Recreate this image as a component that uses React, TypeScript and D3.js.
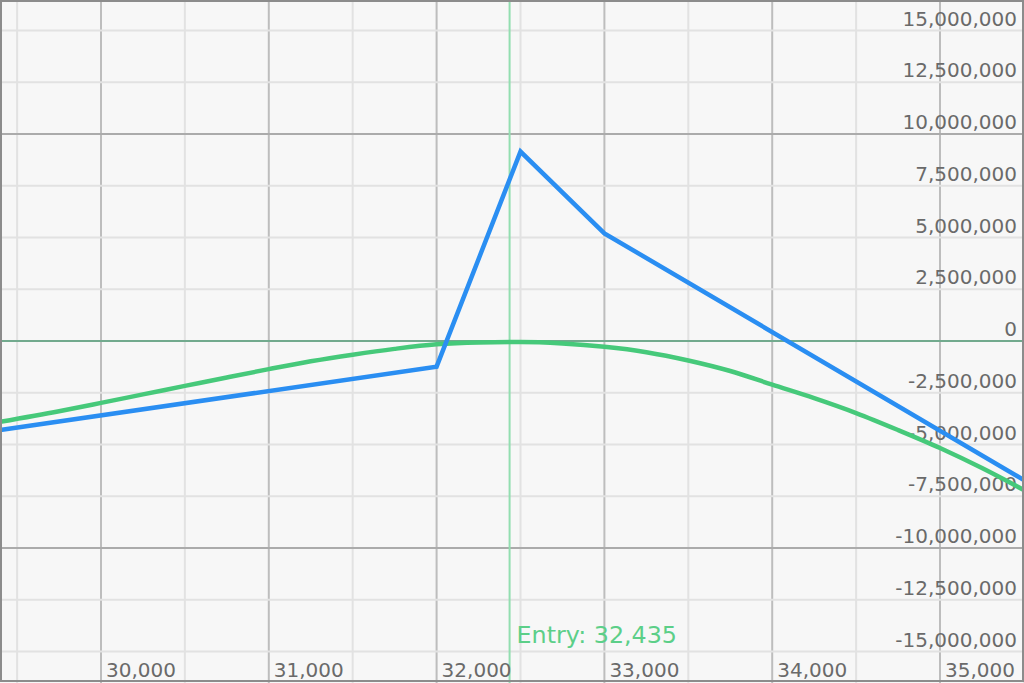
import * as d3 from "d3";
import React, { useEffect, useRef } from "react";

// payoff at expiry (blue) - kinks at strikes
const expiryPrices = [29400, 32000, 32500, 33000, 35500];
const expiryPnl = [-4300000, -1240000, 9150000, 5200000, -6720000];

// current P&L curve (green)
const nowPrices = [
  29400, 29750, 30000, 30250, 30500, 30750, 31000, 31250, 31500, 31750, 32000, 32250, 32500,
  32750, 33000, 33250, 33500, 33750, 34000, 34250, 34500, 34750, 35000, 35250, 35500,
];
const nowPnl = [
  -3900000, -3390000, -2990000, -2580000, -2170000, -1760000, -1360000, -980000, -660000,
  -380000, -160000, -70000, -50000, -120000, -280000, -540000, -940000, -1450000, -2110000,
  -2760000, -3480000, -4300000, -5170000, -6140000, -7200000,
];

const entryPrice = 32435;

const xTicks = [
  29500, 30000, 30500, 31000, 31500, 32000, 32500, 33000, 33500, 34000, 34500, 35000, 35500,
];
const xLabels = [30000, 31000, 32000, 33000, 34000, 35000];
const yTicks = [
  -15000000, -12500000, -10000000, -7500000, -5000000, -2500000, 0, 2500000, 5000000, 7500000,
  10000000, 12500000, 15000000,
];

const W = 1024;
const H = 683;

export default function App() {
  const svgRef = useRef<SVGSVGElement>(null);

  useEffect(() => {
    document.body.style.margin = "0";
    const svg = d3.select(svgRef.current);
    svg.selectAll("*").remove();

    const x = d3.scaleLinear().domain([30000, 35000]).range([101, 940]);
    const y = d3.scaleLinear().domain([-10000000, 10000000]).range([548, 134]);
    const fmt = (v: number) => d3.format(",")(v).replace("\u2212", "-");
    const font = "'DejaVu Sans', Verdana, sans-serif";

    svg.append("rect").attr("width", W).attr("height", H).attr("fill", "#f7f7f7");

    // vertical grid
    svg
      .selectAll("line.vgrid")
      .data(xTicks)
      .join("line")
      .attr("class", "vgrid")
      .attr("x1", (d) => x(d))
      .attr("x2", (d) => x(d))
      .attr("y1", 0)
      .attr("y2", H)
      .attr("stroke", (d) => (d % 1000 === 0 ? "#bdbdbd" : "#e2e2e2"))
      .attr("stroke-width", 2);

    // horizontal grid
    svg
      .selectAll("line.hgrid")
      .data(yTicks.filter((d) => d !== 0))
      .join("line")
      .attr("class", "hgrid")
      .attr("x1", 0)
      .attr("x2", W)
      .attr("y1", (d) => y(d))
      .attr("y2", (d) => y(d))
      .attr("stroke", (d) => (d % 10000000 === 0 ? "#ababab" : "#e2e2e2"))
      .attr("stroke-width", 2);

    // zero line
    svg
      .append("line")
      .attr("x1", 0)
      .attr("x2", W)
      .attr("y1", y(0))
      .attr("y2", y(0))
      .attr("stroke", "#72aa8e")
      .attr("stroke-width", 2);

    // entry line
    svg
      .append("line")
      .attr("x1", x(entryPrice))
      .attr("x2", x(entryPrice))
      .attr("y1", 0)
      .attr("y2", H)
      .attr("stroke", "#92deb0")
      .attr("stroke-width", 2);

    // y labels
    svg
      .selectAll("text.ylab")
      .data(yTicks)
      .join("text")
      .attr("class", "ylab")
      .attr("x", 1017)
      .attr("y", (d) => y(d) - 5)
      .attr("text-anchor", "end")
      .attr("font-family", font)
      .attr("font-size", 20)
      .attr("fill", "#6a6a6a")
      .text((d) => fmt(d));

    // x labels
    svg
      .selectAll("text.xlab")
      .data(xLabels)
      .join("text")
      .attr("class", "xlab")
      .attr("x", (d) => x(d) + 5)
      .attr("y", 677)
      .attr("font-family", font)
      .attr("font-size", 20)
      .attr("fill", "#6a6a6a")
      .text((d) => fmt(d));

    svg
      .append("text")
      .attr("x", x(entryPrice) + 7)
      .attr("y", 643)
      .attr("font-family", font)
      .attr("font-size", 23.8)
      .attr("fill", "#5ccf88")
      .text(`Entry: ${fmt(entryPrice)}`);

    const line = d3
      .line<[number, number]>()
      .x((d) => x(d[0]))
      .y((d) => y(d[1]));

    svg
      .append("path")
      .attr("d", line.curve(d3.curveMonotoneX)(nowPrices.map((p, i) => [p, nowPnl[i]])))
      .attr("fill", "none")
      .attr("stroke", "#46c97a")
      .attr("stroke-width", 4.5);

    svg
      .append("path")
      .attr("d", line.curve(d3.curveLinear)(expiryPrices.map((p, i) => [p, expiryPnl[i]])))
      .attr("fill", "none")
      .attr("stroke", "#2a8ef2")
      .attr("stroke-width", 4.5)
      .attr("stroke-linejoin", "miter");

    // frame
    svg
      .append("rect")
      .attr("x", 1)
      .attr("y", 1)
      .attr("width", W - 2)
      .attr("height", H - 3)
      .attr("fill", "none")
      .attr("stroke", "#8c8c8c")
      .attr("stroke-width", 2);
  }, []);

  return (
    <div style={{ position: "absolute", left: 0, top: 0 }}>
      <svg ref={svgRef} width={W} height={H} style={{ display: "block" }} />
    </div>
  );
}
